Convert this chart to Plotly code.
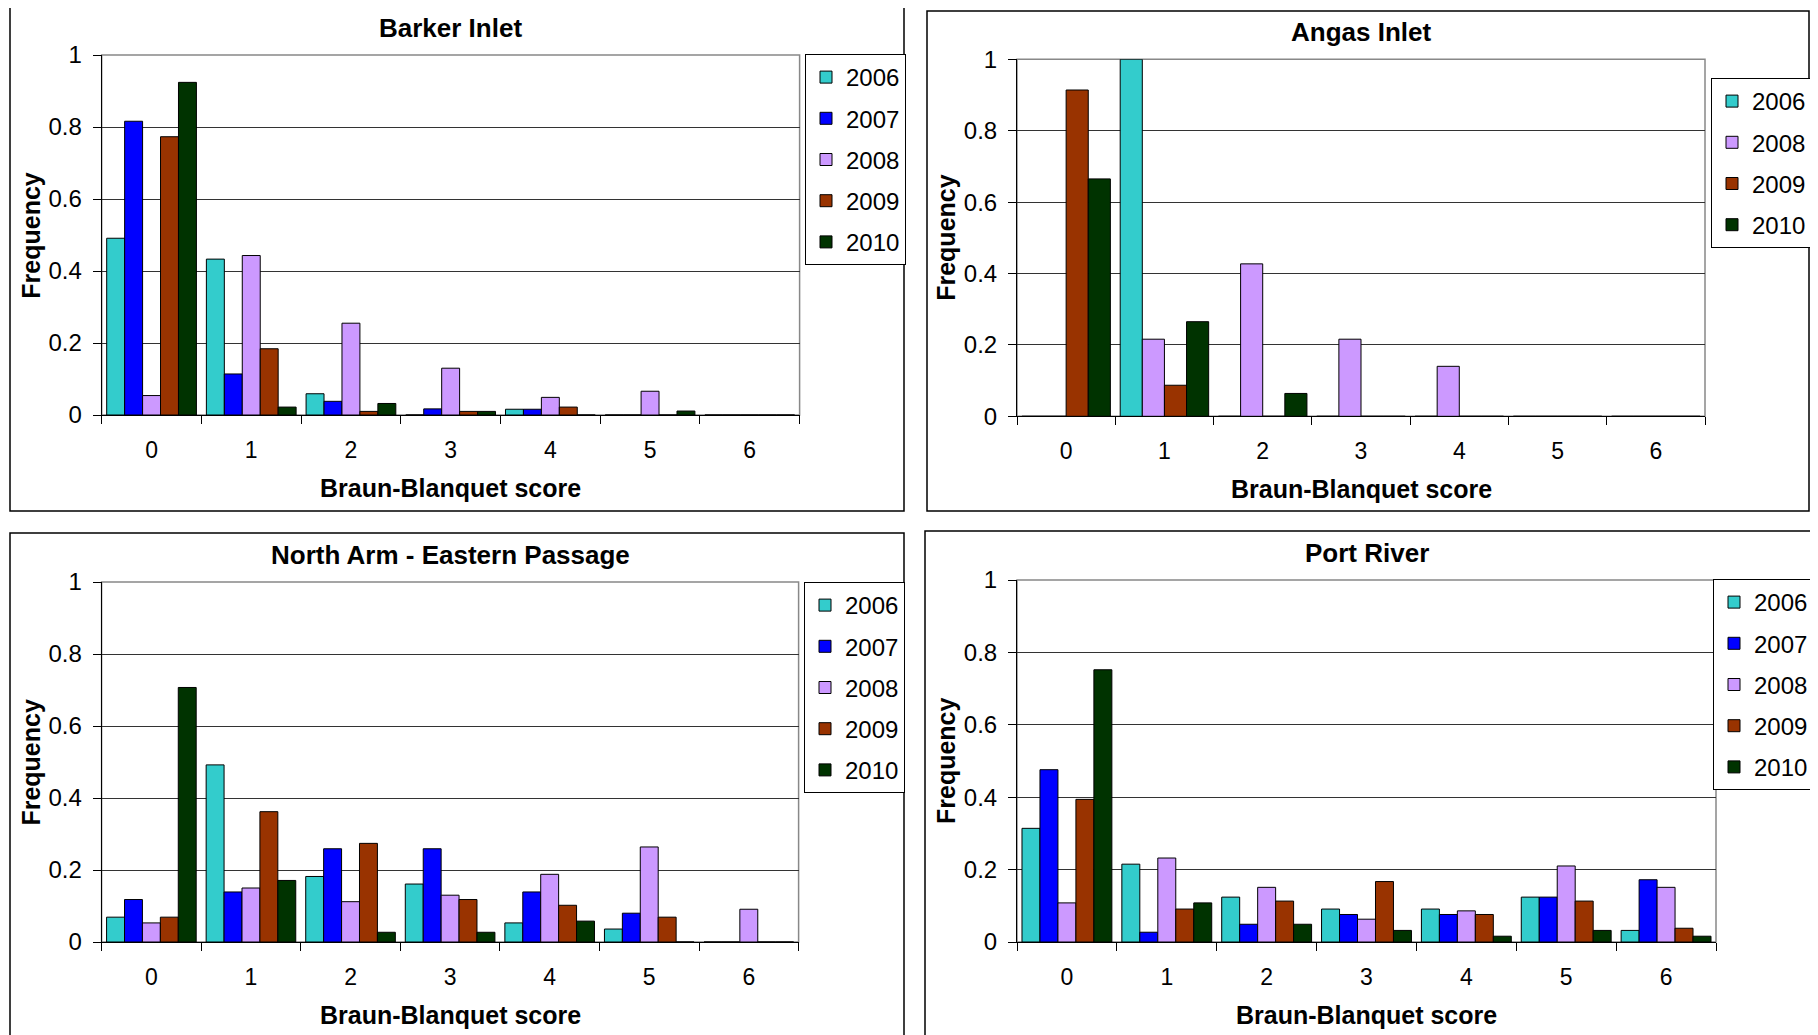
import plotly.graph_objects as go

# ---------------- data ----------------
categories = ["0", "1", "2", "3", "4", "5", "6"]

barker_years = ["2006", "2007", "2008", "2009", "2010"]
barker_2006 = [0.491, 0.433, 0.059, 0.0, 0.016, 0.0, 0.0]
barker_2007 = [0.816, 0.114, 0.038, 0.017, 0.016, 0.0, 0.0]
barker_2008 = [0.054, 0.443, 0.255, 0.130, 0.049, 0.066, 0.0]
barker_2009 = [0.773, 0.184, 0.010, 0.010, 0.022, 0.0, 0.0]
barker_2010 = [0.924, 0.022, 0.032, 0.010, 0.0, 0.011, 0.0]

angas_years = ["2006", "2008", "2009", "2010"]
angas_2006 = [0.0, 1.0, 0.0, 0.0, 0.0, 0.0, 0.0]
angas_2008 = [0.0, 0.216, 0.427, 0.216, 0.140, 0.0, 0.0]
angas_2009 = [0.914, 0.087, 0.0, 0.0, 0.0, 0.0, 0.0]
angas_2010 = [0.665, 0.265, 0.064, 0.0, 0.0, 0.0, 0.0]

north_years = ["2006", "2007", "2008", "2009", "2010"]
north_2006 = [0.069, 0.492, 0.182, 0.161, 0.053, 0.036, 0.0]
north_2007 = [0.118, 0.139, 0.259, 0.259, 0.139, 0.080, 0.0]
north_2008 = [0.053, 0.150, 0.112, 0.130, 0.188, 0.264, 0.091]
north_2009 = [0.069, 0.362, 0.274, 0.118, 0.102, 0.069, 0.0]
north_2010 = [0.707, 0.171, 0.027, 0.027, 0.058, 0.0, 0.0]

port_years = ["2006", "2007", "2008", "2009", "2010"]
port_2006 = [0.314, 0.215, 0.124, 0.091, 0.091, 0.124, 0.032]
port_2007 = [0.476, 0.027, 0.049, 0.076, 0.076, 0.124, 0.172]
port_2008 = [0.108, 0.232, 0.151, 0.063, 0.086, 0.210, 0.151]
port_2009 = [0.394, 0.091, 0.113, 0.167, 0.076, 0.113, 0.038]
port_2010 = [0.752, 0.108, 0.049, 0.032, 0.016, 0.032, 0.016]

y_tickvals = [0, 0.2, 0.4, 0.6, 0.8, 1]
y_ticktext = ["0", "0.2", "0.4", "0.6", "0.8", "1"]

panel_titles = ["Barker Inlet", "Angas Inlet", "North Arm - Eastern Passage", "Port River"]
x_title = "Braun-Blanquet score"
y_title = "Frequency"

# ---------------- style ----------------
OFF = 8                      # default page body margin
W, H = 1818 - OFF, 1035 - OFF
FONT = "Liberation Sans, Arial, sans-serif"
year_colors = {"2006": "#33CCCC", "2007": "#0000FF", "2008": "#CC99FF",
               "2009": "#993300", "2010": "#003300"}

# plot areas in window pixels: (left, right, top, bottom)
plots = [
    (101.7, 799.6, 55.0, 415.0),
    (1017.0, 1705.0, 59.3, 416.3),
    (101.6, 798.6, 582.0, 942.0),
    (1017.0, 1716.0, 580.0, 942.0),
]
legend_pos = [(805, 54), (1711, 78), (804, 582), (1713, 579)]
panel_boxes = [
    (10, 904, 6, 511),
    (927, 1809, 11, 511),
    (10, 904, 533, 1045),
    (925, 1830, 531, 1045),
]

series = [
    list(zip(barker_years, [barker_2006, barker_2007, barker_2008, barker_2009, barker_2010])),
    list(zip(angas_years, [angas_2006, angas_2008, angas_2009, angas_2010])),
    list(zip(north_years, [north_2006, north_2007, north_2008, north_2009, north_2010])),
    list(zip(port_years, [port_2006, port_2007, port_2008, port_2009, port_2010])),
]


def px_x(v):
    return (v - OFF) / W


def px_y(v):
    return 1 - (v - OFF) / H


fig = go.Figure()
layout = dict(
    width=W, height=H,
    margin=dict(l=0, r=0, t=0, b=0, autoexpand=False),
    paper_bgcolor="white", plot_bgcolor="white",
    barmode="group", bargap=0.1, bargroupgap=0,
    font=dict(family=FONT, color="black", size=23),
    showlegend=True,
)

annotations = []
shapes = []

for i, (ser, (l, r, t, b)) in enumerate(zip(series, plots)):
    n = "" if i == 0 else str(i + 1)
    xa, ya = "x" + n, "y" + n
    leg = "legend" + n
    for yr, vals in ser:
        fig.add_trace(go.Bar(
            x=categories, y=vals, name=yr, xaxis=xa, yaxis=ya,
            legend=leg, legendgroup=f"{i}-{yr}",
            marker=dict(color=year_colors[yr], line=dict(color="black", width=1)),
            showlegend=True,
        ))
    layout["xaxis" + n] = dict(
        domain=[px_x(l), px_x(r)], anchor=ya, type="category",
        categoryorder="array", categoryarray=categories,
        range=[-0.5, 6.5], tickson="boundaries", ticks="outside", ticklen=8,
        tickcolor="black", tickwidth=1, showline=True, linecolor="black", linewidth=1,
        showgrid=False, zeroline=False, tickfont=dict(size=23, family=FONT),
        ticklabelstandoff=14, fixedrange=True,
    )
    layout["yaxis" + n] = dict(
        domain=[px_y(b), px_y(t)], anchor=xa, range=[0, 1],
        tickvals=y_tickvals, ticktext=y_ticktext, ticks="outside", ticklen=8,
        tickcolor="black", showline=True, linecolor="black", linewidth=1,
        showgrid=True, gridcolor="#333333", gridwidth=1, zeroline=False,
        tickfont=dict(size=24, family=FONT), ticklabelstandoff=6, fixedrange=True,
    )
    lx, ly = legend_pos[i]
    layout[leg] = dict(
        x=px_x(lx), y=px_y(ly), xanchor="left", yanchor="top",
        xref="paper", yref="paper",
        bgcolor="white", bordercolor="black", borderwidth=1,
        font=dict(size=24, family=FONT), tracegroupgap=7, itemwidth=30,
        traceorder="grouped",
    )
    # plot-area gray border (top/right)
    shapes.append(dict(type="rect", xref="paper", yref="paper",
                       x0=px_x(l), x1=px_x(r), y0=px_y(b), y1=px_y(t),
                       line=dict(color="#888888", width=1.5), layer="below"))
    # panel box
    bl, br, bt, bb = panel_boxes[i]
    shapes.append(dict(type="rect", xref="paper", yref="paper",
                       x0=px_x(bl), x1=px_x(br), y0=px_y(bb), y1=px_y(bt),
                       line=dict(color="black", width=1.5), layer="below"))
    cx = (l + r) / 2
    # panel title
    annotations.append(dict(text=panel_titles[i], x=px_x(cx), y=px_y(t - 27),
                            xref="paper", yref="paper", showarrow=False,
                            xanchor="center", yanchor="middle",
                            font=dict(size=26, family=FONT, weight="bold")))
    # x title
    annotations.append(dict(text=x_title, x=px_x(cx), y=px_y(b + 73),
                            xref="paper", yref="paper", showarrow=False,
                            xanchor="center", yanchor="middle",
                            font=dict(size=25, family=FONT, weight="bold")))
    # y title
    annotations.append(dict(text=y_title, x=px_x(l - 71), y=px_y((t + b) / 2),
                            xref="paper", yref="paper", showarrow=False,
                            textangle=-90, xanchor="center", yanchor="middle",
                            font=dict(size=25, family=FONT, weight="bold")))

layout["annotations"] = annotations
layout["shapes"] = shapes
fig.update_layout(**layout)
fig.write_html("out.html")
